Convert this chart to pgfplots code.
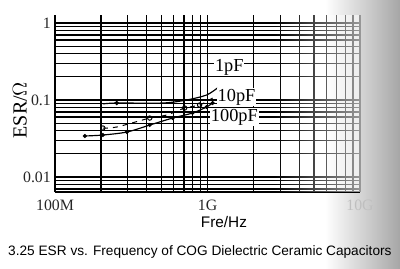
\documentclass[border=0pt]{standalone}
\usepackage{pgfplots}
\pgfplotsset{compat=1.18}
\usepackage{fontspec}
\setmainfont{Liberation Serif}
\newfontfamily\arialf{Liberation Sans}
\usetikzlibrary{fadings}
\begin{document}
\begin{tikzpicture}[x=0.6pt,y=0.6pt]
\fill[black!35, path fading=west] (270,-77) rectangle (345,192);
\begin{axis}[
  at={(0,0)}, anchor=south west, scale only axis,
  width=183pt, height=106.2pt,
  xmode=log, ymode=log,
  xmin=1e8, xmax=1e10, ymin=0.00639, ymax=1.27,
  axis line style={black, line width=0.9pt},
  axis x line*=bottom, axis y line*=left,
  grid=both,
  major grid style={black, line width=0.9pt},
  minor grid style={black, line width=0.75pt},
  tick style={draw=none},
  xtick={1e8,1e9,1e10}, xticklabels={100M,1G,{\color{black!25}10G}},
  ytick={0.01,0.1,1}, yticklabels={0.01,0.1,1},
  minor xtick={2e8,3e8,4e8,5e8,6e8,7e8,8e8,9e8,2e9,3e9,4e9,5e9,6e9,7e9,8e9,9e9},
  minor ytick={0.007,0.008,0.009,0.02,0.03,0.04,0.05,0.06,0.07,0.08,0.09,0.2,0.3,0.4,0.5,0.6,0.7,0.8,0.9},
  ticklabel style={font=\fontsize{9.5}{10}\selectfont, text=black!85},
  yticklabel style={xshift=1pt},
  xticklabel style={yshift=-1pt},
  ylabel={ESR/$\Omega$},
  ylabel style={at={(axis description cs:-0.115,0.463)}, anchor=center, font=\fontsize{12}{13}\selectfont},
  xlabel={Fre/Hz},
  xlabel style={at={(axis description cs:0.554,-0.169)}, anchor=center, font=\arialf\fontsize{9.2}{10}\selectfont},
  clip=false,
]
% 1pF
\addplot[black, line width=0.7pt, smooth, mark=*, mark size=0.9pt, mark indices={2}] coordinates {
  (2.06e8,0.089) (2.54e8,0.0914) (5.08e8,0.0914) (7.29e8,0.100) (9.85e8,0.116) (1.16e9,0.143)
};
% 10pF
\addplot[black, line width=0.6pt, dashed, smooth, mark=o, mark size=1.3pt, mark options={solid, fill=white}, mark indices={1,3,5,6}] coordinates {
  (2.06e8,0.0433) (2.54e8,0.0446) (4.18e8,0.0583) (5.40e8,0.0638) (7.08e8,0.0787) (8.87e8,0.0861) (1.08e9,0.106)
};
% 100pF
\addplot[black, line width=0.7pt, smooth, mark=*, mark size=0.8pt] coordinates {
  (1.57e8,0.0341) (2.06e8,0.0351) (2.96e8,0.0384) (4.18e8,0.0473) (5.90e8,0.0583) (7.98e8,0.0678) (9.85e8,0.0811) (1.08e9,0.0914)
};
\node[font=\fontsize{11}{12}\selectfont, fill=white, inner sep=0.5pt] at (axis cs:1.39e9,0.268) {1pF};
\node[font=\fontsize{11}{12}\selectfont, fill=white, inner sep=0.5pt] at (axis cs:1.55e9,0.109) {10pF};
\node[font=\fontsize{11}{12}\selectfont, fill=white, inner sep=0.5pt] at (axis cs:1.50e9,0.060) {100pF};
\node[font=\arialf\fontsize{8.2}{9}\selectfont, anchor=center] at (axis description cs:0.475,-0.34) {3.25 ESR vs. Frequency of COG Dielectric Ceramic Capacitors};
\end{axis}
\fill[white, opacity=0.6, path fading=west] (220,0) rectangle (306,177);
\pgfresetboundingbox
\path (-55,-77) rectangle (345,192);
\end{tikzpicture}
\end{document}
